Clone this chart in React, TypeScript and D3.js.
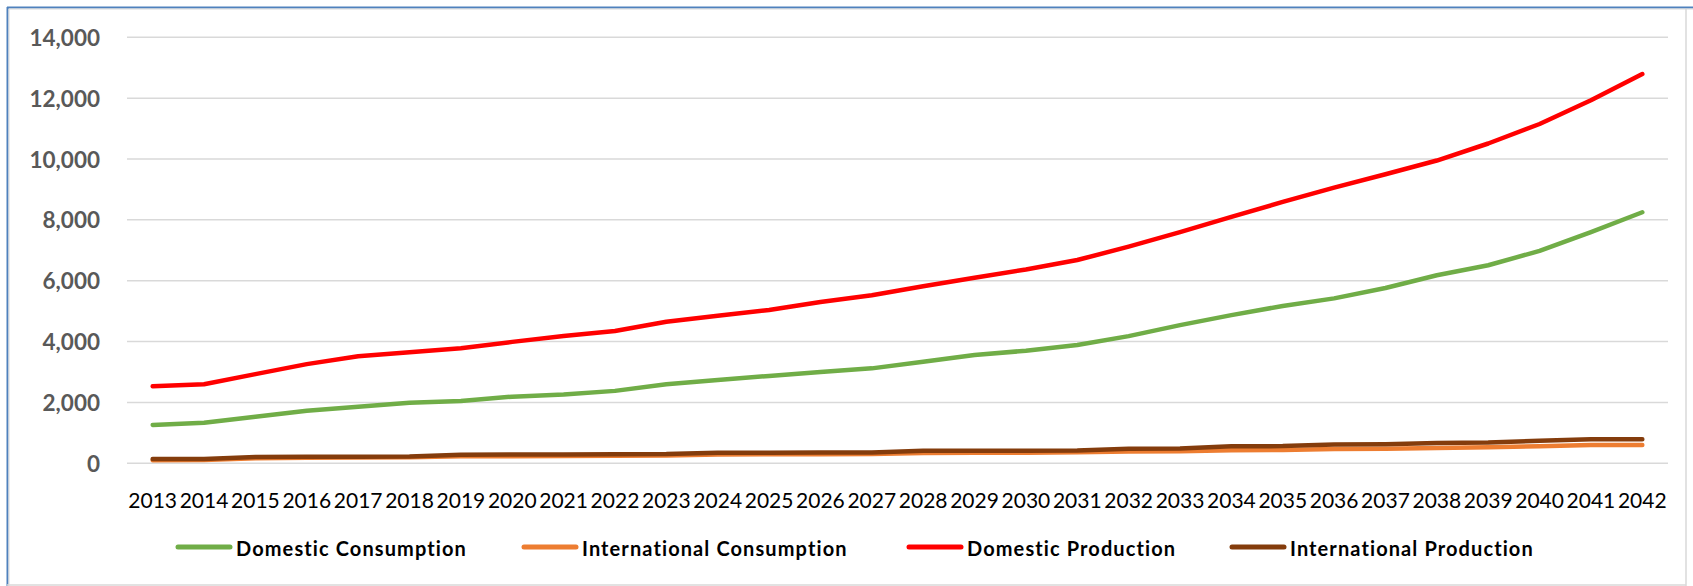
import React from "react";
import * as d3 from "d3";

// Annual series, 2013–2042
const years: string[] = d3.range(2013, 2043).map(String);

const domesticConsumption: number[] = [
  1260, 1330, 1530, 1730, 1860, 1990, 2050, 2190, 2260, 2380,
  2600, 2740, 2870, 3000, 3120, 3340, 3560, 3700, 3890, 4180,
  4540, 4870, 5170, 5420, 5760, 6180, 6510, 6980, 7600, 8250,
];

const internationalConsumption: number[] = [
  100, 110, 170, 180, 190, 195, 230, 235, 240, 250,
  260, 290, 295, 300, 305, 340, 345, 350, 360, 390,
  400, 430, 440, 470, 480, 500, 530, 560, 600, 605,
];

const domesticProduction: number[] = [
  2530, 2600, 2930, 3260, 3520, 3650, 3780, 3990, 4180, 4350,
  4650, 4850, 5040, 5300, 5520, 5820, 6100, 6370, 6680, 7120,
  7600, 8100, 8590, 9060, 9500, 9950, 10510, 11150, 11930, 12790,
];

const internationalProduction: number[] = [
  140, 140, 210, 215, 215, 220, 285, 290, 290, 300,
  305, 350, 350, 355, 355, 410, 410, 410, 420, 480,
  490, 560, 565, 620, 630, 670, 680, 740, 790, 790,
];

const yTicks: number[] = [0, 2000, 4000, 6000, 8000, 10000, 12000, 14000];

const seriesNames: string[] = [
  "Domestic Consumption",
  "International Consumption",
  "Domestic Production",
  "International Production",
];
const seriesValues: number[][] = [
  domesticConsumption,
  internationalConsumption,
  domesticProduction,
  internationalProduction,
];
const seriesColors: string[] = ["#70AD47", "#ED7D31", "#FF0000", "#843C0C"];

// Layout
const W = 1693;
const H = 586;
const plotLeft = 127;
const plotRight = 1668;
const plotTop = 37.3;
const plotBottom = 463.3;
const legendY = 547;
const legendStarts = [176, 522, 907, 1230];
const FONT = "Lato, 'Open Sans', 'Liberation Sans', sans-serif";

export default function App() {
  const x = d3
    .scalePoint<string>()
    .domain(years)
    .range([plotLeft, plotRight])
    .padding(0.5);
  const y = d3.scaleLinear().domain([0, 14000]).range([plotBottom, plotTop]);
  const fmt = d3.format(",");

  const line = d3
    .line<number>()
    .x((_, i) => x(years[i]) as number)
    .y((d) => y(d));

  return (
    <svg
      width={W}
      height={H}
      viewBox={`0 0 ${W} ${H}`}
      style={{ position: "absolute", left: 0, top: 0, background: "#fff" }}
    >
      {/* frame */}
      <line x1={7.5} x2={7.5} y1={7} y2={H} stroke="#4F81BD" strokeWidth={2} />
      <line x1={7} x2={W} y1={7.5} y2={7.5} stroke="#4F81BD" strokeWidth={2} />
      <line x1={9} x2={9} y1={9} y2={H} stroke="#D9D9D9" strokeWidth={1} />
      <line x1={9} x2={W} y1={9} y2={9} stroke="#D9D9D9" strokeWidth={1} />
      <line x1={7} x2={1686} y1={585} y2={585} stroke="#D9D9D9" strokeWidth={1.5} />
      <line x1={1686} x2={1686} y1={9} y2={586} stroke="#D9D9D9" strokeWidth={1.5} />

      {/* gridlines and y labels */}
      {yTicks.map((t) => (
        <g key={t}>
          <line
            x1={plotLeft}
            x2={plotRight}
            y1={y(t)}
            y2={y(t)}
            stroke="#D9D9D9"
            strokeWidth={1.5}
          />
          <text
            x={100}
            y={y(t) + 8.5}
            textAnchor="end"
            fontFamily={FONT}
            fontWeight="bold"
            fontSize={22.5}
            fill="#595959"
          >
            {fmt(t)}
          </text>
        </g>
      ))}

      {/* x labels */}
      {years.map((yr) => (
        <text
          key={yr}
          x={x(yr)}
          y={508}
          textAnchor="middle"
          fontFamily={FONT}
          fontSize={21}
          fill="#000"
        >
          {yr}
        </text>
      ))}

      {/* series */}
      {seriesValues.map((vals, i) => (
        <path
          key={seriesNames[i]}
          d={line(vals) ?? ""}
          fill="none"
          stroke={seriesColors[i]}
          strokeWidth={4.5}
          strokeLinecap="round"
          strokeLinejoin="round"
        />
      ))}

      {/* legend */}
      {seriesNames.map((name, i) => (
        <g key={name} transform={`translate(${legendStarts[i]},${legendY})`}>
          <line
            x1={2}
            x2={54}
            y1={0}
            y2={0}
            stroke={seriesColors[i]}
            strokeWidth={5}
            strokeLinecap="round"
          />
          <text
            x={60}
            y={9}
            fontFamily={FONT}
            fontWeight="bold"
            fontSize={20}
            letterSpacing={1.1}
            fill="#000"
          >
            {name}
          </text>
        </g>
      ))}
    </svg>
  );
}
